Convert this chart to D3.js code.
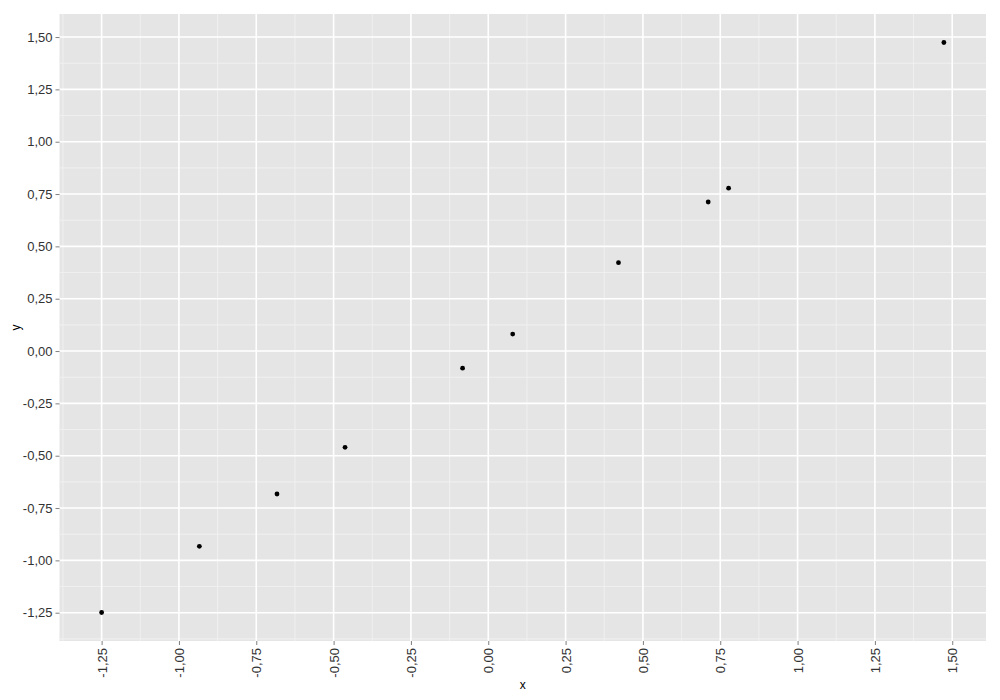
<!DOCTYPE html>
<html>
<head>
<meta charset="utf-8">
<script src="https://cdn.jsdelivr.net/npm/d3@7"></script>
<style>
  body { margin: 0; background: #fff; }
  text { font-family: "Liberation Sans", Arial, sans-serif; }
</style>
</head>
<body>
<div id="chart"></div>
<script>
// point values
const xValues = [-1.250, -0.934, -0.683, -0.463, -0.083, 0.079, 0.421, 0.711, 0.777, 1.473];
const yValues = [-1.249, -0.933, -0.683, -0.460, -0.082, 0.081, 0.422, 0.712, 0.778, 1.474];
const xTicks = [-1.25, -1.00, -0.75, -0.50, -0.25, 0.00, 0.25, 0.50, 0.75, 1.00, 1.25, 1.50];
const yTicks = [-1.25, -1.00, -0.75, -0.50, -0.25, 0.00, 0.25, 0.50, 0.75, 1.00, 1.25, 1.50];

const points = xValues.map((x, i) => ({ x: x, y: yValues[i] }));

const svgWidth = 1000;
const svgHeight = 700;
const margin = { top: 14, right: 14, bottom: 59, left: 59.5 };
const width = svgWidth - margin.left - margin.right;
const height = svgHeight - margin.top - margin.bottom;

// comma decimal, plain hyphen for minus
const locale = d3.formatLocale({ decimal: ",", thousands: ".", grouping: [3], currency: ["", ""], minus: "-" });
const fmt = locale.format(".2f");

// ggplot-style 5% expansion
function expand(ext) {
    const pad = (ext[1] - ext[0]) * 0.05;
    return [ext[0] - pad, ext[1] + pad];
}

const xScale = d3.scaleLinear()
    .domain(expand(d3.extent(xValues)))
    .range([0, width]);

const yScale = d3.scaleLinear()
    .domain(expand(d3.extent(yValues)))
    .range([height, 0]);

// minor breaks halfway between majors
const step = 0.25;
const xMinor = d3.range(xTicks[0] - step / 2, xTicks[xTicks.length - 1] + step, step)
    .filter(v => v >= xScale.domain()[0] && v <= xScale.domain()[1]);
const yMinor = d3.range(yTicks[0] - step / 2, yTicks[yTicks.length - 1] + step, step)
    .filter(v => v >= yScale.domain()[0] && v <= yScale.domain()[1]);

const svg = d3.select("#chart")
    .append("svg")
    .attr("width", svgWidth)
    .attr("height", svgHeight);

const chartGroup = svg.append("g")
    .attr("transform", `translate(${margin.left}, ${margin.top})`);

chartGroup.append("rect")
    .attr("width", width)
    .attr("height", height)
    .attr("fill", "#e5e5e5");

// minor grid
chartGroup.selectAll(".xminor").data(xMinor).enter().append("line")
    .attr("x1", d => xScale(d)).attr("x2", d => xScale(d))
    .attr("y1", 0).attr("y2", height)
    .attr("stroke", "#f2f2f2").attr("stroke-width", 0.8);

chartGroup.selectAll(".yminor").data(yMinor).enter().append("line")
    .attr("y1", d => yScale(d)).attr("y2", d => yScale(d))
    .attr("x1", 0).attr("x2", width)
    .attr("stroke", "#f2f2f2").attr("stroke-width", 0.8);

// major grid
chartGroup.selectAll(".xmajor").data(xTicks).enter().append("line")
    .attr("x1", d => xScale(d)).attr("x2", d => xScale(d))
    .attr("y1", 0).attr("y2", height)
    .attr("stroke", "#ffffff").attr("stroke-width", 1.6);

chartGroup.selectAll(".ymajor").data(yTicks).enter().append("line")
    .attr("y1", d => yScale(d)).attr("y2", d => yScale(d))
    .attr("x1", 0).attr("x2", width)
    .attr("stroke", "#ffffff").attr("stroke-width", 1.6);

// axes
const xAxis = d3.axisBottom(xScale).tickValues(xTicks).tickFormat(fmt).tickSize(4).tickPadding(3);
const yAxis = d3.axisLeft(yScale).tickValues(yTicks).tickFormat(fmt).tickSize(4).tickPadding(3);

const xAxisG = chartGroup.append("g")
    .attr("transform", `translate(0, ${height})`)
    .call(xAxis);

xAxisG.selectAll("text")
    .attr("transform", "rotate(-90)")
    .attr("x", -7)
    .attr("y", 0)
    .attr("dy", "0.35em")
    .style("text-anchor", "end");

const yAxisG = chartGroup.append("g").call(yAxis);

[xAxisG, yAxisG].forEach(g => {
    g.select(".domain").remove();
    g.selectAll(".tick line").attr("stroke", "#7f7f7f");
    g.selectAll(".tick text")
        .attr("fill", "#333333")
        .style("font-size", "13px")
        .style("font-family", '"Liberation Sans", Arial, sans-serif');
});

// axis titles
chartGroup.append("text")
    .attr("x", width / 2)
    .attr("y", height + 48)
    .style("text-anchor", "middle")
    .style("font-size", "12px")
    .attr("fill", "#000")
    .text("x");

chartGroup.append("text")
    .attr("transform", "rotate(-90)")
    .attr("x", -height / 2)
    .attr("y", -40)
    .style("text-anchor", "middle")
    .style("font-size", "12px")
    .attr("fill", "#000")
    .text("y");

// points
chartGroup.selectAll(".pt")
    .data(points)
    .enter().append("circle")
    .attr("cx", d => xScale(d.x))
    .attr("cy", d => yScale(d.y))
    .attr("r", 2.4)
    .attr("fill", "#000");
</script>
</body>
</html>
